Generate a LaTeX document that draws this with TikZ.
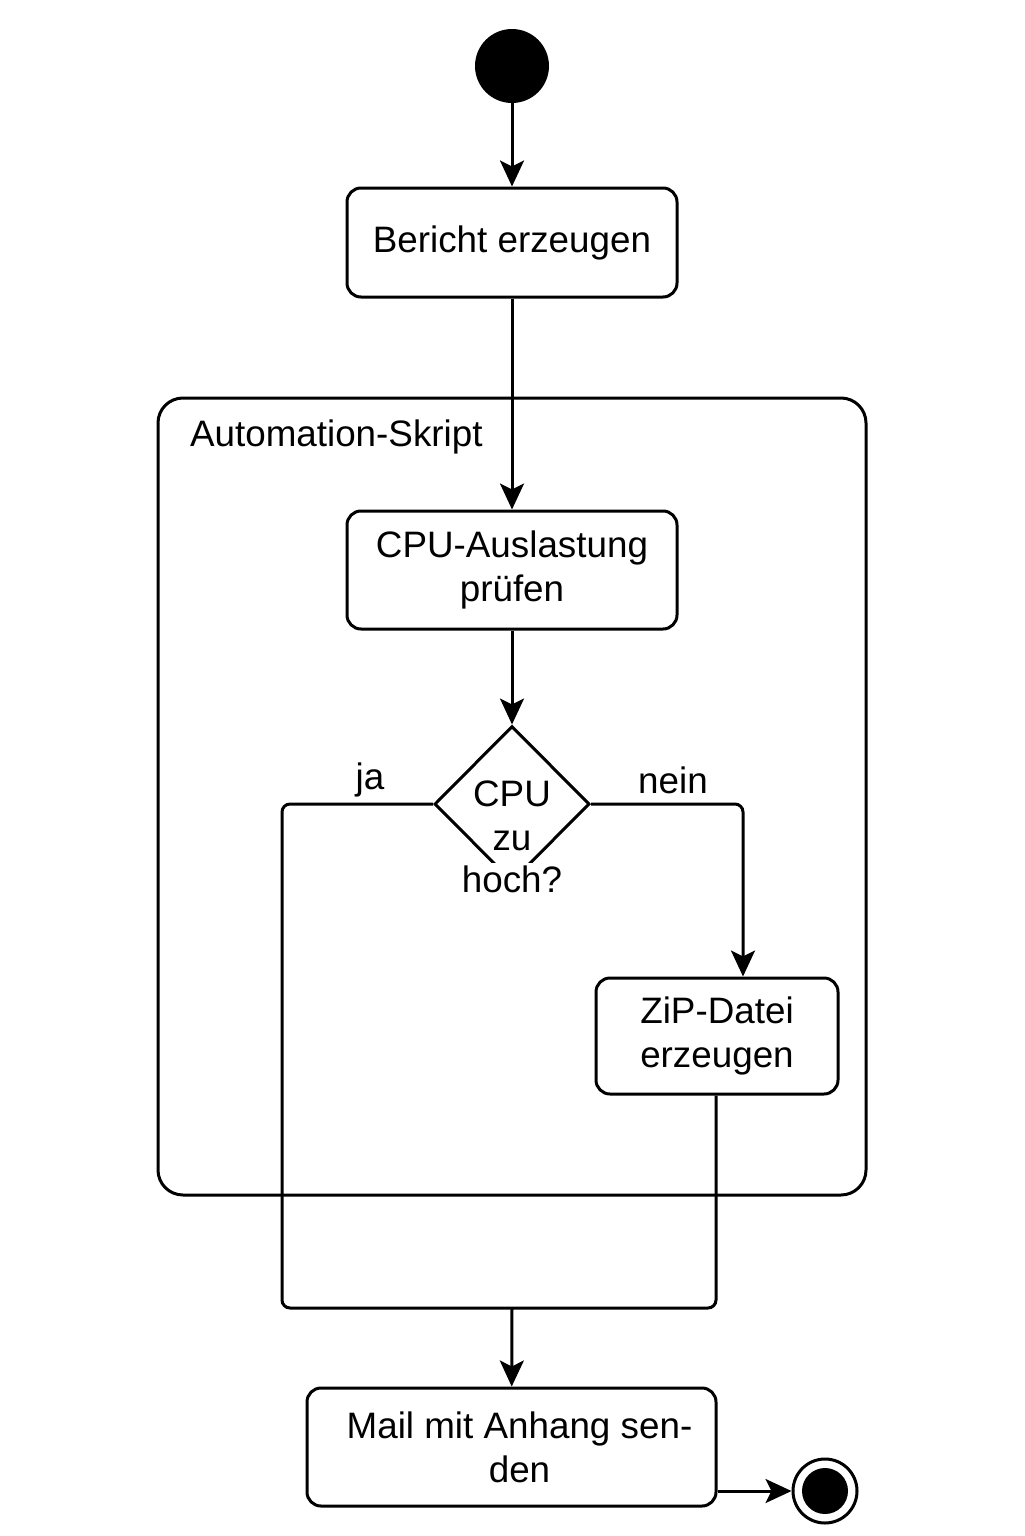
\documentclass[tikz,border=0pt]{standalone}
\usepackage{fontspec}
\setmainfont{Liberation Sans}
\usepackage{tikz}
\usetikzlibrary{
	shapes.geometric,
	arrows.meta,
	positioning,
	calc
}

\begin{document}
\begin{tikzpicture}[
	x=0.5pt, y=-0.5pt,
	every node/.style={font=\fontsize{18.4}{22}\selectfont, align=center},
	action/.style={
		rectangle, draw, rounded corners=7pt, line width=1.5pt,
		inner sep=0pt
	},
	decision/.style={
		diamond, draw, line width=1.5pt, inner sep=0pt,
		minimum width=77.5pt, minimum height=78pt
	},
	region/.style={
		rectangle, draw, rounded corners=12.5pt, line width=1.5pt,
		minimum width=354pt, minimum height=398.5pt
	},
	line/.style={line width=1.5pt, black},
	arrow/.style={line, -{Stealth[length=13pt, width=12pt, inset=3pt]}}
	]
	\useasboundingbox (0,0) rectangle (1024,1536);
	
	% Automation-Skript region
	\node[region] (skript) at (512,796.5) {};
	\node[anchor=west] (skriptlabel) at (183,437) {Automation-Skript};
	
	% Start
	\node[circle, fill=black, minimum size=37pt, inner sep=0pt] (start) at (512,66) {};
	
	% Bericht erzeugen
	\node[action, minimum width=165pt, minimum height=54.5pt] (bericht) at (512,242.5) {Bericht erzeugen};
	
	% CPU-Auslastung pruefen
	\node[action, minimum width=165pt, minimum height=59pt] (cpu) at (512,570) {CPU-Auslastung\\prüfen};
	
	% decision
	\node[decision] (dec) at (512,804) {};
	\node (dectext) at (512,816) {CPU\\zu};
	\node[fill=white, inner sep=1pt] (dechoch) at (512,879) {hoch?};
	\node (ja) at (370,780) {ja};
	\node (nein) at (673,780) {nein};
	
	% ZiP-Datei erzeugen
	\node[action, minimum width=121pt, minimum height=58pt] (zip) at (717,1036) {ZiP-Datei\\erzeugen};
	
	% Mail senden
	\node[action, minimum width=204.5pt, minimum height=59pt] (mail) at (511.5,1447) {\hspace*{8pt}Mail mit Anhang sen-\\\hspace*{8pt}den};
	
	% final node
	\node[circle, draw, line width=1.5pt, minimum size=32pt, inner sep=0pt,
		path picture={\fill (path picture bounding box.center) circle (11.5pt);}] (end) at (825,1491) {};
	
	% merge
	\coordinate (mergeL) at (282,1308);
	\coordinate (merge) at (512,1308);
	
	% connectors
	\draw[arrow] (start) -- (bericht);
	\draw[arrow] (bericht) -- (cpu);
	\draw[arrow] (cpu) -- (dec);
	\draw[arrow, rounded corners=4pt] (dec.east) -| ([xshift=13pt]zip.north);
	\draw[line, rounded corners=4pt] (dec.west) -| (mergeL) -- ([xshift=-0.5pt]zip.south |- mergeL) -- ([xshift=-0.5pt]zip.south);
	\draw[arrow] (merge) -- (mail);
	\draw[arrow] (mail.east |- end) -- (end);
\end{tikzpicture}
\end{document}
